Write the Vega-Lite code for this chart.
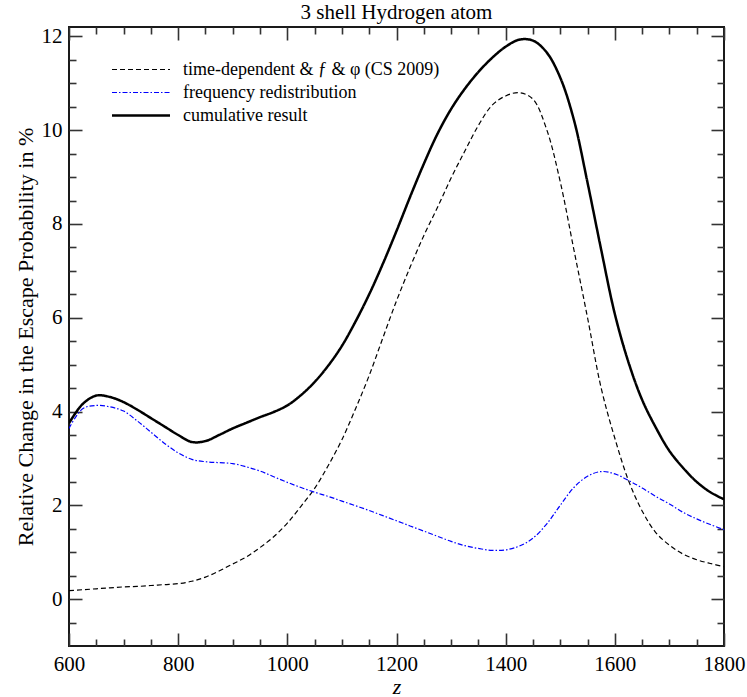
{
  "$schema": "https://vega.github.io/schema/vega-lite/v6.json",
  "autosize": "none",
  "width": 655,
  "height": 619,
  "padding": {"left": 69, "top": 27, "right": 23, "bottom": 51},
  "background": "white",
  "title": {"text": "3 shell Hydrogen atom", "font": "Liberation Serif", "fontSize": 21, "fontWeight": "normal", "color": "#000", "offset": 3, "baseline": "bottom", "anchor": "middle", "dy": 22},
  "config": {
    "font": "Liberation Serif",
    "view": {"stroke": "#1a1a1a", "strokeWidth": 2},
    "axis": {"domain": false, "grid": false, "tickColor": "#333", "tickWidth": 1.6, "labelFont": "Liberation Serif", "labelFontSize": 21, "labelColor": "#000", "labelFlush": false, "titleFont": "Liberation Serif", "titleColor": "#000", "titleFontWeight": "normal", "format": "d"}
  },
  "data": {"values": [
    {"z":600,"td":0.18,"fr":3.64,"cum":3.75},
    {"z":625,"td":0.20,"fr":4.06,"cum":4.16},
    {"z":650,"td":0.22,"fr":4.13,"cum":4.34},
    {"z":675,"td":0.24,"fr":4.10,"cum":4.31},
    {"z":700,"td":0.26,"fr":4.01,"cum":4.20},
    {"z":725,"td":0.27,"fr":3.80,"cum":4.04},
    {"z":750,"td":0.29,"fr":3.56,"cum":3.86},
    {"z":775,"td":0.31,"fr":3.32,"cum":3.68},
    {"z":800,"td":0.33,"fr":3.12,"cum":3.50},
    {"z":825,"td":0.38,"fr":2.98,"cum":3.35},
    {"z":850,"td":0.47,"fr":2.93,"cum":3.37},
    {"z":875,"td":0.60,"fr":2.91,"cum":3.50},
    {"z":900,"td":0.75,"fr":2.89,"cum":3.64},
    {"z":925,"td":0.90,"fr":2.82,"cum":3.76},
    {"z":950,"td":1.10,"fr":2.73,"cum":3.88},
    {"z":975,"td":1.33,"fr":2.61,"cum":3.99},
    {"z":1000,"td":1.62,"fr":2.49,"cum":4.13},
    {"z":1025,"td":1.98,"fr":2.38,"cum":4.35},
    {"z":1050,"td":2.36,"fr":2.28,"cum":4.63},
    {"z":1075,"td":2.85,"fr":2.19,"cum":4.98},
    {"z":1100,"td":3.40,"fr":2.09,"cum":5.40},
    {"z":1125,"td":4.06,"fr":1.99,"cum":5.92},
    {"z":1150,"td":4.77,"fr":1.89,"cum":6.50},
    {"z":1175,"td":5.57,"fr":1.78,"cum":7.15},
    {"z":1200,"td":6.36,"fr":1.67,"cum":7.85},
    {"z":1225,"td":7.08,"fr":1.56,"cum":8.58},
    {"z":1250,"td":7.75,"fr":1.45,"cum":9.28},
    {"z":1275,"td":8.35,"fr":1.34,"cum":9.92},
    {"z":1300,"td":8.98,"fr":1.23,"cum":10.45},
    {"z":1325,"td":9.55,"fr":1.14,"cum":10.88},
    {"z":1350,"td":10.10,"fr":1.08,"cum":11.24},
    {"z":1375,"td":10.53,"fr":1.04,"cum":11.54},
    {"z":1400,"td":10.73,"fr":1.05,"cum":11.78},
    {"z":1425,"td":10.80,"fr":1.13,"cum":11.93},
    {"z":1450,"td":10.66,"fr":1.30,"cum":11.91},
    {"z":1475,"td":10.02,"fr":1.60,"cum":11.66},
    {"z":1500,"td":8.90,"fr":2.00,"cum":11.12},
    {"z":1525,"td":7.45,"fr":2.38,"cum":10.22},
    {"z":1550,"td":6.00,"fr":2.62,"cum":8.88},
    {"z":1575,"td":4.50,"fr":2.72,"cum":7.45},
    {"z":1600,"td":3.43,"fr":2.67,"cum":6.08},
    {"z":1625,"td":2.53,"fr":2.53,"cum":5.05},
    {"z":1650,"td":1.88,"fr":2.37,"cum":4.25},
    {"z":1675,"td":1.42,"fr":2.19,"cum":3.66},
    {"z":1700,"td":1.15,"fr":2.03,"cum":3.16},
    {"z":1725,"td":0.96,"fr":1.85,"cum":2.80},
    {"z":1750,"td":0.84,"fr":1.71,"cum":2.50},
    {"z":1775,"td":0.76,"fr":1.59,"cum":2.28},
    {"z":1800,"td":0.69,"fr":1.48,"cum":2.13}
  ]},
  "transform": [{"fold": ["td", "fr", "cum"], "as": ["s", "v"]}],
  "resolve": {"axis": {"x": "independent", "y": "independent"}},
  "layer": [
    {
      "mark": {"type": "line", "interpolate": "catmull-rom", "clip": true},
      "encoding": {
        "x": {"field": "z", "type": "quantitative", "scale": {"domain": [600, 1800], "nice": false, "zero": false},
              "axis": {"orient": "bottom", "values": [600, 800, 1000, 1200, 1400, 1600, 1800], "format": "d", "tickSize": -13, "labelPadding": 20, "labelFlush": false, "labelFont": "Liberation Serif", "labelFontSize": 21, "title": "z", "titleFont": "Liberation Serif", "titleFontStyle": "italic", "titleFontSize": 22, "titlePadding": 2}},
        "y": {"field": "v", "type": "quantitative", "scale": {"domain": [-1, 12.2], "nice": false, "zero": false},
              "axis": {"orient": "left", "values": [0, 2, 4, 6, 8, 10, 12], "format": "d", "tickSize": -13, "labelPadding": 20, "labelFlush": false, "labelFont": "Liberation Serif", "labelFontSize": 21, "title": "Relative Change in the Escape Probability in %", "titleFont": "Liberation Serif", "titleFontSize": 22, "titlePadding": 4}},
        "color": {"field": "s", "type": "nominal",
                  "scale": {"domain": ["td", "fr", "cum"], "range": ["#000000", "#0000ff", "#000000"]},
                  "legend": {"title": null, "orient": "none", "legendX": 43, "legendY": 32, "padding": 0,
                             "symbolType": "stroke", "symbolSize": 3364, "clipHeight": 21, "rowPadding": 2,
                             "symbolOffset": 20, "labelOffset": 33, "labelFont": "Liberation Serif", "labelFontSize": 18, "labelColor": "#000", "labelLimit": 500,
                             "labelExpr": "datum.label == 'td' ? 'time-dependent & ƒ & φ (CS 2009)' : datum.label == 'fr' ? 'frequency redistribution' : 'cumulative result'",
                             "encode": {"symbols": {"update": {"strokeWidth": {"signal": "datum.value == 'cum' ? 2.5 : 1.2"}}}}}},
        "strokeDash": {"field": "s", "type": "nominal",
                       "scale": {"domain": ["td", "fr", "cum"], "range": [[5, 3], [5, 2, 1.5, 2], [1, 0]]}},
        "strokeWidth": {"condition": {"test": "datum.s == 'cum'", "value": 2.5}, "value": 1.2}
      }
    },
    {
      "mark": {"type": "line", "strokeOpacity": 0},
      "encoding": {
        "x": {"field": "z", "type": "quantitative", "axis": {"orient": "bottom", "values": [650, 700, 750, 850, 900, 950, 1050, 1100, 1150, 1250, 1300, 1350, 1450, 1500, 1550, 1650, 1700, 1750], "tickSize": -7, "labels": false, "title": null}},
        "y": {"field": "v", "type": "quantitative", "axis": {"orient": "left", "values": [-0.5, 0.5, 1, 1.5, 2.5, 3, 3.5, 4.5, 5, 5.5, 6.5, 7, 7.5, 8.5, 9, 9.5, 10.5, 11, 11.5], "tickSize": -7, "labels": false, "title": null}}
      }
    },
    {
      "mark": {"type": "line", "strokeOpacity": 0},
      "encoding": {
        "x": {"field": "z", "type": "quantitative", "axis": {"orient": "top", "values": [600, 800, 1000, 1200, 1400, 1600, 1800], "tickSize": -13, "labels": false, "title": null}},
        "y": {"field": "v", "type": "quantitative", "axis": {"orient": "right", "values": [0, 2, 4, 6, 8, 10, 12], "tickSize": -13, "labels": false, "title": null}}
      }
    },
    {
      "mark": {"type": "line", "strokeOpacity": 0},
      "encoding": {
        "x": {"field": "z", "type": "quantitative", "axis": {"orient": "top", "values": [650, 700, 750, 850, 900, 950, 1050, 1100, 1150, 1250, 1300, 1350, 1450, 1500, 1550, 1650, 1700, 1750], "tickSize": -7, "labels": false, "title": null}},
        "y": {"field": "v", "type": "quantitative", "axis": {"orient": "right", "values": [-0.5, 0.5, 1, 1.5, 2.5, 3, 3.5, 4.5, 5, 5.5, 6.5, 7, 7.5, 8.5, 9, 9.5, 10.5, 11, 11.5], "tickSize": -7, "labels": false, "title": null}}
      }
    }
  ]
}
